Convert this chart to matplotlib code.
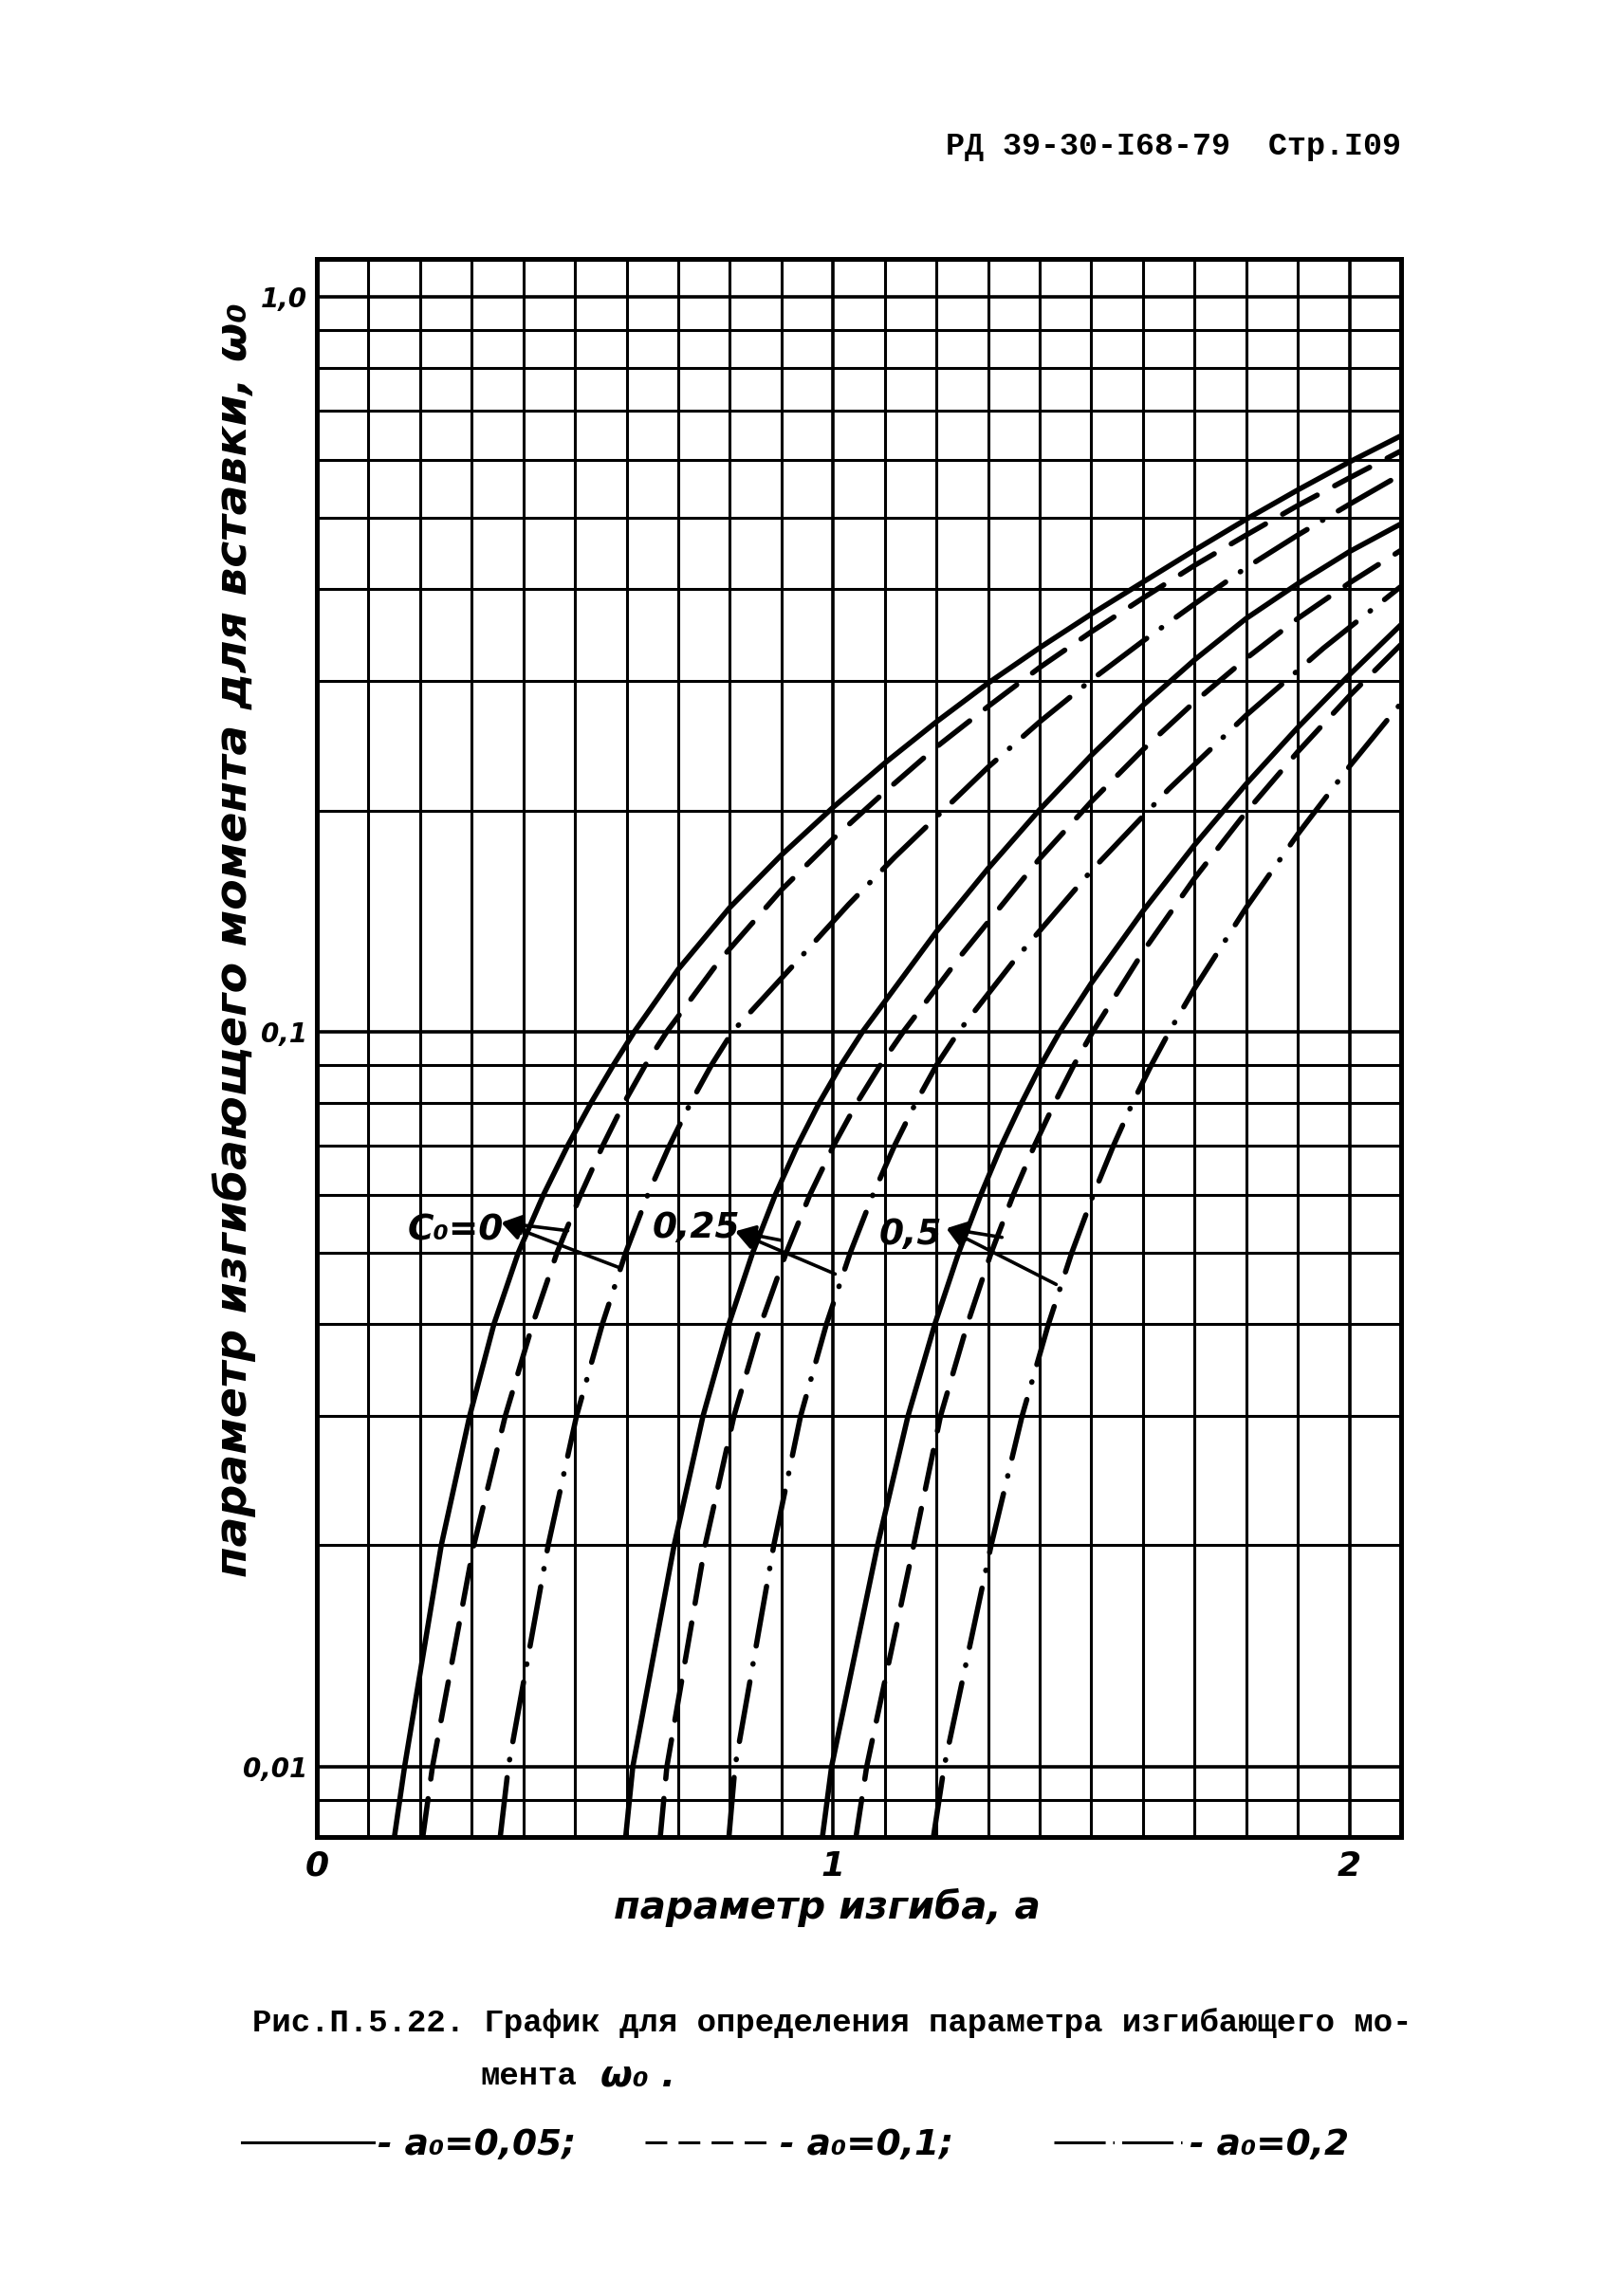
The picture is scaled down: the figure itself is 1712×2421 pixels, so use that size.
import matplotlib.pyplot as plt
from matplotlib.lines import Line2D
from matplotlib.ticker import FixedLocator, FixedFormatter, LogLocator, NullFormatter, MultipleLocator

# Параметр изгиба a (ось X) и параметр момента w0 (ось Y), снято с графика
# c0 = 0
a_c0_a005 = [0.150, 0.170, 0.241, 0.296, 0.343, 0.390, 0.439, 0.486, 0.531, 0.574, 0.615,
             0.70, 0.80, 0.90, 1.00, 1.10, 1.20, 1.30, 1.40, 1.50, 1.60, 1.70, 1.80, 1.90, 2.00, 2.10]
w_c0_a005 = [0.008, 0.010, 0.020, 0.030, 0.040, 0.050, 0.060, 0.070, 0.080, 0.090, 0.100,
             0.1216, 0.1476, 0.174, 0.202, 0.232, 0.264, 0.298, 0.333, 0.370, 0.409, 0.452, 0.498, 0.546, 0.596, 0.647]
a_c0_a01 = [0.205, 0.224, 0.304, 0.365, 0.418, 0.465, 0.511, 0.554, 0.595, 0.636, 0.678,
            0.78, 0.90, 1.00, 1.10, 1.20, 1.30, 1.40, 1.50, 1.60, 1.70, 1.80, 1.90, 2.00, 2.10]
w_c0_a01 = [0.008, 0.010, 0.020, 0.030, 0.040, 0.050, 0.060, 0.070, 0.080, 0.090, 0.100,
            0.125, 0.156, 0.183, 0.212, 0.244, 0.277, 0.313, 0.350, 0.389, 0.431, 0.474, 0.520, 0.567, 0.617]
a_c0_a02 = [0.355, 0.371, 0.448, 0.503, 0.553, 0.598, 0.641, 0.683, 0.724, 0.764, 0.805,
            0.92, 1.03, 1.12, 1.21, 1.30, 1.40, 1.50, 1.60, 1.70, 1.80, 1.90, 2.00, 2.10]
w_c0_a02 = [0.008, 0.010, 0.020, 0.030, 0.040, 0.050, 0.060, 0.070, 0.080, 0.090, 0.100,
            0.1225, 0.149, 0.173, 0.199, 0.229, 0.264, 0.301, 0.340, 0.382, 0.428, 0.474, 0.522, 0.573]

# c0 = 0.25
a_c025_a005 = [0.598, 0.612, 0.692, 0.748, 0.798, 0.844, 0.888, 0.931, 0.973, 1.015, 1.057,
               1.20, 1.30, 1.40, 1.50, 1.60, 1.70, 1.80, 1.90, 2.00, 2.10]
w_c025_a005 = [0.008, 0.010, 0.020, 0.030, 0.040, 0.050, 0.060, 0.070, 0.080, 0.090, 0.100,
               0.1368, 0.1667, 0.2005, 0.2377, 0.278, 0.3206, 0.365, 0.407, 0.450, 0.491]
a_c025_a01 = [0.665, 0.678, 0.752, 0.808, 0.860, 0.909, 0.955, 1.001, 1.046, 1.091, 1.136,
              1.25, 1.40, 1.50, 1.60, 1.70, 1.80, 1.90, 2.00, 2.10]
w_c025_a01 = [0.008, 0.010, 0.020, 0.030, 0.040, 0.050, 0.060, 0.070, 0.080, 0.090, 0.100,
              0.1276, 0.172, 0.2056, 0.242, 0.281, 0.322, 0.365, 0.408, 0.452]
a_c025_a02 = [0.798, 0.810, 0.885, 0.937, 0.987, 1.033, 1.077, 1.119, 1.160, 1.200, 1.243,
              1.35, 1.50, 1.65, 1.80, 1.95, 2.10]
w_c025_a02 = [0.008, 0.010, 0.020, 0.030, 0.040, 0.050, 0.060, 0.070, 0.080, 0.090, 0.100,
              0.1248, 0.1656, 0.2138, 0.2695, 0.3327, 0.4036]

# c0 = 0.5
a_c05_a005 = [0.979, 0.997, 1.086, 1.145, 1.197, 1.243, 1.286, 1.326, 1.365, 1.402, 1.439,
              1.50, 1.60, 1.70, 1.80, 1.90, 2.00, 2.10]
w_c05_a005 = [0.008, 0.010, 0.020, 0.030, 0.040, 0.050, 0.060, 0.070, 0.080, 0.090, 0.100,
              0.1164, 0.1459, 0.1795, 0.2173, 0.2594, 0.306, 0.358]
a_c05_a01 = [1.044, 1.065, 1.156, 1.208, 1.260, 1.306, 1.349, 1.390, 1.429, 1.466, 1.503,
             1.60, 1.70, 1.80, 1.90, 2.00, 2.10]
w_c05_a01 = [0.008, 0.010, 0.020, 0.030, 0.040, 0.050, 0.060, 0.070, 0.080, 0.090, 0.100,
             0.1284, 0.1617, 0.199, 0.2404, 0.2864, 0.3365]
a_c05_a02 = [1.194, 1.215, 1.306, 1.366, 1.417, 1.462, 1.504, 1.543, 1.580, 1.616, 1.651,
             1.70, 1.80, 1.90, 2.00, 2.10]
w_c05_a02 = [0.008, 0.010, 0.020, 0.030, 0.040, 0.050, 0.060, 0.070, 0.080, 0.090, 0.100,
             0.1145, 0.1475, 0.1857, 0.2296, 0.280]

y_ticks = [0.01, 0.1, 1.0]
y_tick_labels = ['0,01', '0,1', '1,0']
x_ticks = [0, 1, 2]
x_tick_labels = ['0', '1', '2']

# подписи c0 и выноски: текст, точка текста, остриё, два конца
c0_labels = ['C₀=0', '0,25', '0,5']
c0_text_pos = [(0.268, 0.0537), (0.735, 0.0540), (1.150, 0.0530)]
c0_tips = [(0.357, 0.0550), (0.810, 0.0535), (1.219, 0.0540)]
c0_end1 = [(0.486, 0.0536), (0.900, 0.0520), (1.327, 0.0525)]
c0_end2 = [(0.584, 0.0478), (1.004, 0.0468), (1.432, 0.0453)]

legend_labels = ['- a₀=0,05;', '- a₀=0,1;', '- a₀=0,2']

hand = dict(family='DejaVu Sans', style='italic', weight='bold')
mono = dict(family='Liberation Mono', weight='bold')

W, H = 1712, 2421
fig = plt.figure(figsize=(W / 100, H / 100), dpi=100)
ax = fig.add_axes([334 / W, 1 - 1937 / H, 1143 / W, 1664 / H])

lw = 4.0
dash = (7.5, 3.75)
dashdot = (11.5, 3.4, 0.1, 3.4)

curves = [
    (a_c0_a005, w_c0_a005, None), (a_c0_a01, w_c0_a01, dash), (a_c0_a02, w_c0_a02, dashdot),
    (a_c025_a005, w_c025_a005, None), (a_c025_a01, w_c025_a01, dash), (a_c025_a02, w_c025_a02, dashdot),
    (a_c05_a005, w_c05_a005, None), (a_c05_a01, w_c05_a01, dash), (a_c05_a02, w_c05_a02, dashdot),
]
for a, w, d in curves:
    line, = ax.plot(a, w, color='k', lw=lw, solid_capstyle='round', dash_capstyle='round',
                    solid_joinstyle='round')
    if d is not None:
        line.set_dashes(d)

ax.set_yscale('log')
ax.set_xlim(0, 2.1)
ax.set_ylim(0.00802, 1.126)

ax.xaxis.set_major_locator(FixedLocator(x_ticks))
ax.xaxis.set_major_formatter(FixedFormatter(x_tick_labels))
ax.xaxis.set_minor_locator(MultipleLocator(0.1))
ax.yaxis.set_major_locator(FixedLocator(y_ticks))
ax.yaxis.set_major_formatter(FixedFormatter(y_tick_labels))
ax.yaxis.set_minor_locator(LogLocator(base=10, subs=range(2, 10)))
ax.yaxis.set_minor_formatter(NullFormatter())

ax.grid(True, which='major', color='k', lw=2.6)
ax.grid(True, which='minor', color='k', lw=2.2)
ax.tick_params(which='both', length=0)
ax.tick_params(axis='x', pad=10)
ax.tick_params(axis='y', pad=7)
for lab in ax.get_xticklabels():
    lab.set(size=26, **hand)
for lab in ax.get_yticklabels():
    lab.set(size=20, **hand)
for s in ax.spines.values():
    s.set_linewidth(3.6)

ax.text(-0.076, 0.5685, 'параметр изгибающего момента для вставки, ω₀', transform=ax.transAxes,
        rotation=90, ha='center', va='center', size=34, **hand)
ax.text(0.4707, -0.0445, 'параметр изгиба, a', transform=ax.transAxes,
        ha='center', va='center', size=29, **hand)

for txt, tp, tip, e1, e2 in zip(c0_labels, c0_text_pos, c0_tips, c0_end1, c0_end2):
    ax.text(tp[0], tp[1], txt, ha='center', va='center', size=27, **hand)
    for e in (e1, e2):
        ax.annotate('', xy=tip, xytext=e,
                    arrowprops=dict(arrowstyle='-|>', lw=2.6, color='k', mutation_scale=32,
                                    shrinkA=0, shrinkB=0))

fig.text(1477 / W, 1 - 154 / H, 'РД 39-30-I68-79  Стр.I09', ha='right', va='center', size=24, **mono)
fig.text(266 / W, 1 - 2133 / H, 'Рис.П.5.22. График для определения параметра изгибающего мо-',
         ha='left', va='center', size=24.5, **mono)
fig.text(506 / W, 1 - 2190 / H, 'мента', ha='left', va='center', size=24.5, **mono)
fig.text(633 / W, 1 - 2188 / H, 'ω₀ .', ha='left', va='center', size=28, **hand)

handles = [Line2D([], [], color='k', lw=2.2),
           Line2D([], [], color='k', lw=2.2, dashes=(7.5, 3.9)),
           Line2D([], [], color='k', lw=2.2, dashes=(17.7, 2.6, 0.5, 2.6))]
legend_x = [255, 680, 1111]
for hdl, lab, lx in zip(handles, legend_labels, legend_x):
    fig.legend([hdl], [lab], loc='center left', bbox_to_anchor=(lx / W, 1 - 2262 / H),
               frameon=False, handlelength=3.7, handletextpad=0.1, borderpad=0, borderaxespad=0,
               prop=dict(size=27, **hand))

fig.savefig('out.png', dpi=100)
